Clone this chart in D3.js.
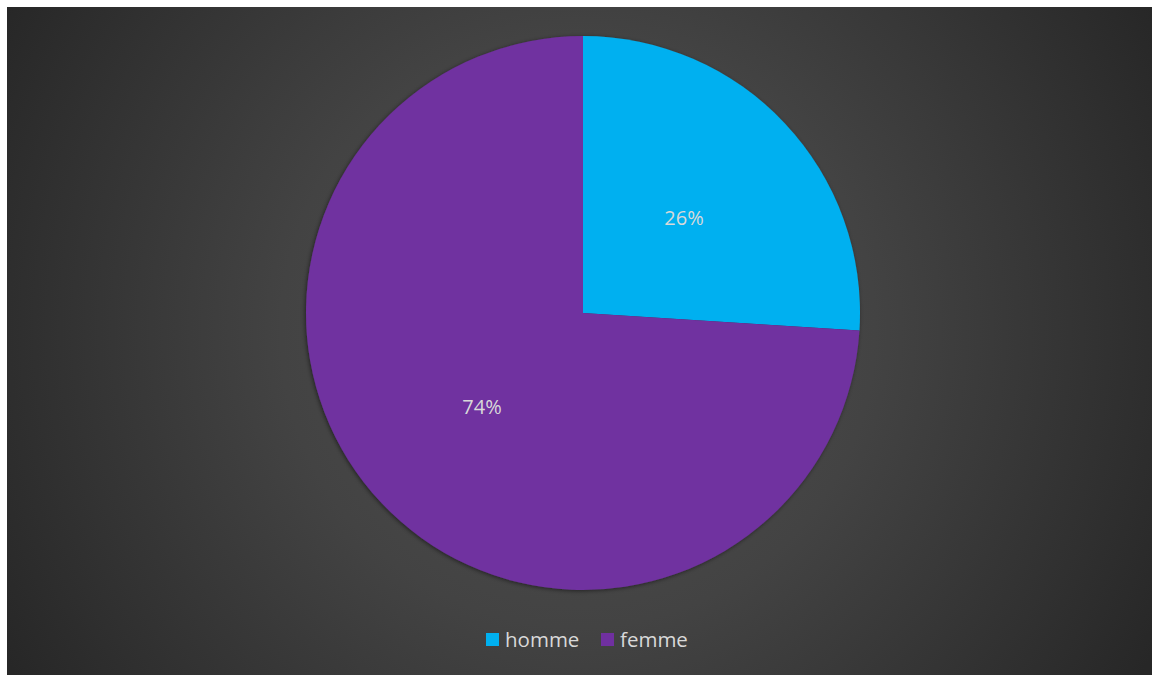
<!DOCTYPE html>
<html>
<head>
<meta charset="utf-8">
<script src="https://cdn.jsdelivr.net/npm/d3@7"></script>
<style>
  html, body { margin: 0; padding: 0; background: #ffffff; }
  svg { display: block; }
</style>
</head>
<body>
<svg id="chart" width="1152" height="675"></svg>
<script>
// Gender split
const categories = ["homme", "femme"];
const values = [26, 74];
const labels = ["26%", "74%"];
const colors = ["#00b0f0", "#7030a0"];

const W = 1152, H = 675;
const svg = d3.select("#chart");
const defs = svg.append("defs");

// Dark radial background
const grad = defs.append("radialGradient")
  .attr("id", "bg").attr("gradientUnits", "userSpaceOnUse")
  .attr("cx", 578).attr("cy", 330).attr("r", 660);
grad.append("stop").attr("offset", "0%").attr("stop-color", "#505050");
grad.append("stop").attr("offset", "45%").attr("stop-color", "#434343");
grad.append("stop").attr("offset", "100%").attr("stop-color", "#272727");

const shadow = defs.append("filter").attr("id", "shadow")
  .attr("x", "-10%").attr("y", "-10%").attr("width", "120%").attr("height", "120%");
shadow.append("feDropShadow").attr("dx", -1).attr("dy", 1)
  .attr("stdDeviation", 2).attr("flood-color", "#000").attr("flood-opacity", 0.5);

svg.append("rect").attr("x", 7).attr("y", 7)
  .attr("width", W - 7).attr("height", H - 7).attr("fill", "url(#bg)");

const cx = 583, cy = 313, r = 277;
const pie = d3.pie().sort(null).value(d => d.value);
const arcs = pie(categories.map((c, i) => ({ name: c, value: values[i], label: labels[i], color: colors[i] })));
const arc = d3.arc().innerRadius(0).outerRadius(r);

const g = svg.append("g").attr("transform", `translate(${cx},${cy})`);
g.append("g").attr("filter", "url(#shadow)")
  .selectAll("path").data(arcs).join("path")
  .attr("d", arc)
  .attr("fill", d => d.data.color);

g.selectAll("text").data(arcs).join("text")
  .attr("transform", d => `translate(${arc.centroid(d)})`)
  .attr("text-anchor", "middle").attr("dy", "0.33em")
  .attr("font-family", "'Open Sans', sans-serif").attr("font-size", 20)
  .attr("fill", "#d9d9d9")
  .text(d => d.data.label);

// Legend
const legend = svg.append("g").attr("transform", "translate(486,633)");
const itemX = [0, 115];
categories.forEach((c, i) => {
  const it = legend.append("g").attr("transform", `translate(${itemX[i]},0)`);
  it.append("rect").attr("width", 13).attr("height", 13).attr("fill", colors[i]);
  it.append("text").attr("x", 19).attr("y", 14)
    .attr("font-family", "'Open Sans', sans-serif").attr("font-size", 20.5)
    .attr("fill", "#d9d9d9").text(c);
});
</script>
</body>
</html>
